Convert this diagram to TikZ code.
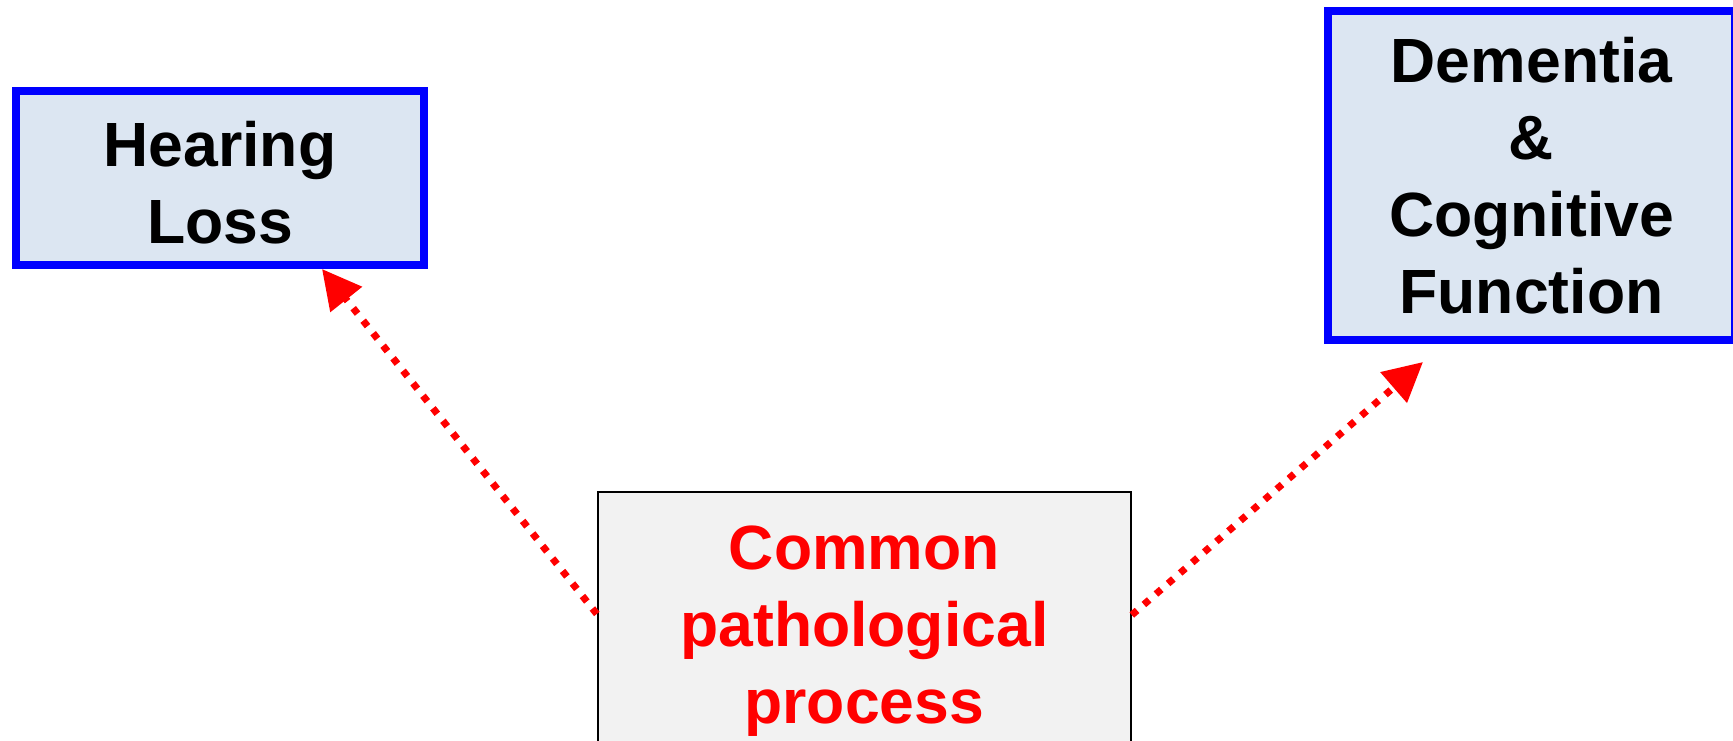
\documentclass[tikz,border=0pt]{standalone}
\usepackage{fontspec}
\setmainfont{Liberation Sans}
\usetikzlibrary{arrows.meta}
\definecolor{boxblue}{RGB}{0,0,255}
\definecolor{boxfill}{RGB}{220,230,242}
\definecolor{grayfill}{RGB}{242,242,242}
\definecolor{arrred}{RGB}{255,0,0}
\newcommand{\topstrut}{\rule{0pt}{54pt}}
\tikzset{
  bigtext/.style={font=\fontsize{62.5}{77}\selectfont\bfseries, align=center},
  outcome/.style={bigtext, draw=boxblue, line width=8pt, fill=boxfill, inner sep=0pt, text=black},
  causebox/.style={bigtext, draw=black, line width=2pt, fill=grayfill, inner sep=0pt, text=arrred},
  link/.style={draw=arrred, line width=7pt, dash pattern=on 7pt off 9pt,
    -{Triangle[length=39pt,width=39pt]}}
}
\begin{document}
\begin{tikzpicture}[x=1pt,y=-1pt]
\useasboundingbox (0,0) rectangle (1733,741);
\node[outcome, minimum width=408pt, minimum height=174pt] (hear) at (220,178) {\topstrut Hearing\\Loss};
\node[outcome, minimum width=407pt, minimum height=329pt] (dem) at (1531.5,175.5) {Dementia\\\&\\Cognitive\\Function};
\node[causebox, minimum width=533pt, minimum height=268pt] (cause) at (864.3,626) {\topstrut Common\\pathological\\process};
\draw[link] ([yshift=12pt]cause.west) -- ([xshift=102pt]hear.south);
\draw[link] ([yshift=11pt]cause.east) -- ([xshift=-108.5pt,yshift=-18pt]dem.south);
\end{tikzpicture}
\end{document}
